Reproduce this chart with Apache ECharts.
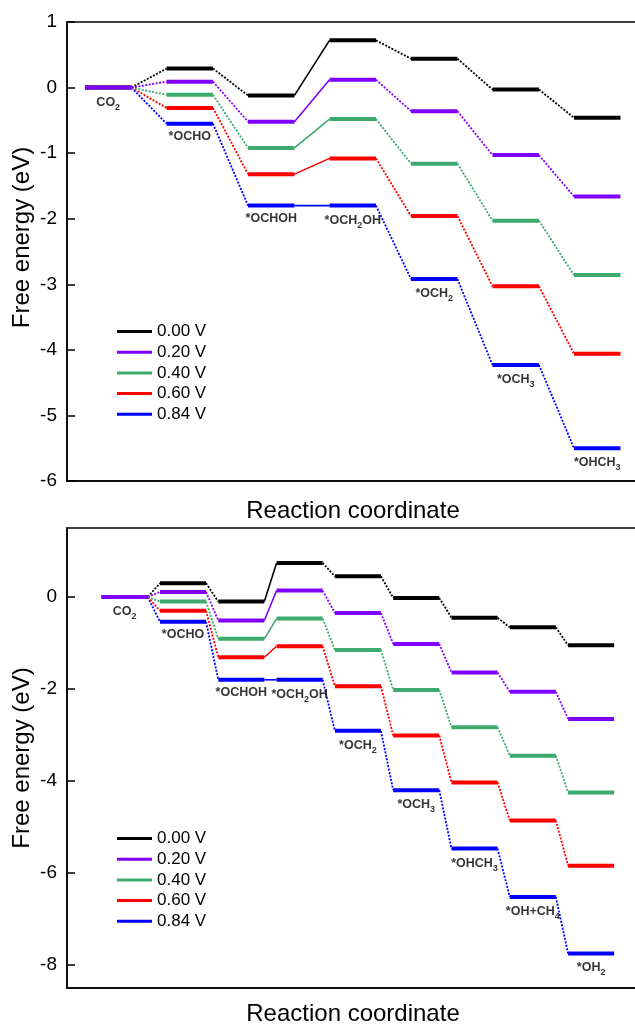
<!DOCTYPE html>
<html><head><meta charset="utf-8">
<script src="https://cdn.jsdelivr.net/npm/echarts@6/dist/echarts.min.js"></script>
<style>html,body{margin:0;padding:0;background:#fff}#c{width:635px;height:1025px}</style>
</head><body><div id="c"></div>
<script>
// ---- data ----
const voltages = ['0.00 V', '0.20 V', '0.40 V', '0.60 V', '0.84 V'];
const colors = ['#000000', '#8000FF', '#3BAA6B', '#FF0000', '#0000FF'];

// top panel (to *OHCH3)
const topStates = ['CO{s|2}', '*OCHO', '*OCHOH', '*OCH{s|2}OH', '*OCH{s|2}', '*OCH{s|3}', '*OHCH{s|3}'];
const topE000 = [0, 0.29, -0.12, 0.72, 0.44, -0.03, -0.46];
const topE020 = [0, 0.09, -0.52, 0.12, -0.36, -1.03, -1.66];
const topE040 = [0, -0.11, -0.92, -0.48, -1.16, -2.03, -2.86];
const topE060 = [0, -0.31, -1.32, -1.08, -1.96, -3.03, -4.06];
const topE084 = [0, -0.55, -1.80, -1.80, -2.92, -4.23, -5.50];
const topTicks = [1, 0, -1, -2, -3, -4, -5, -6];

// bottom panel (to *OH2)
const botStates = ['CO{s|2}', '*OCHO', '*OCHOH', '*OCH{s|2}OH', '*OCH{s|2}', '*OCH{s|3}', '*OHCH{s|3}', '*OH+CH{s|4}', '*OH{s|2}'];
const botE000 = [0, 0.30, -0.10, 0.74, 0.45, -0.02, -0.45, -0.66, -1.05];
const botE020 = [0, 0.11, -0.51, 0.14, -0.35, -1.02, -1.64, -2.06, -2.65];
const botE040 = [0, -0.10, -0.91, -0.47, -1.15, -2.02, -2.83, -3.45, -4.25];
const botE060 = [0, -0.30, -1.31, -1.07, -1.94, -3.01, -4.03, -4.86, -5.84];
const botE084 = [0, -0.54, -1.80, -1.80, -2.91, -4.20, -5.47, -6.52, -7.75];
const botTicks = [0, -2, -4, -6, -8];

// steps drawn with a solid connector (index of step from state j to j+1)
const solidSteps = [2];

// ---- build ----
const FONT = '"Liberation Sans", Arial, Helvetica, sans-serif';
const topSets = [topE000, topE020, topE040, topE060, topE084];
const botSets = [botE000, botE020, botE040, botE060, botE084];
const drawOrder = [0, 4, 3, 2, 1];

function segments(E, W) {
  const out = [];
  for (let i = 0; i < E.length; i++) out.push([i, E[i], i + W, E[i], 0]);
  for (let j = 0; j < E.length - 1; j++) out.push([j + W, E[j], j + 1, E[j + 1], solidSteps.includes(j) ? 2 : 1]);
  return out;
}
function renderSeg(params, api) {
  const p0 = api.coord([api.value(0), api.value(1)]);
  const p1 = api.coord([api.value(2), api.value(3)]);
  const kind = api.value(4);
  const color = api.visual('color');
  return {
    type: 'line',
    shape: { x1: p0[0], y1: p0[1], x2: p1[0], y2: p1[1] },
    style: {
      stroke: color,
      lineWidth: kind === 0 ? 4 : (kind === 2 ? 1.6 : 1.8),
      lineDash: kind === 1 ? [2, 1.5] : null,
      fill: null
    }
  };
}
function levelSeries(sets, W, gi) {
  return drawOrder.map(k => ({
    type: 'custom',
    name: voltages[k],
    xAxisIndex: gi, yAxisIndex: gi,
    itemStyle: { color: colors[k] },
    renderItem: renderSeg,
    dimensions: ['x0', 'y0', 'x1', 'y1', 'kind'],
    encode: { x: [0, 2], y: [1, 3] },
    data: segments(sets[k], W),
    silent: true,
    clip: false,
    z: 2
  }));
}
function labelSeries(states, sets, W, gi) {
  return {
    type: 'scatter',
    xAxisIndex: gi, yAxisIndex: gi,
    symbolSize: 1,
    itemStyle: { color: 'rgba(0,0,0,0)' },
    silent: true,
    z: 10,
    data: states.map((s, i) => ({
      value: [i + W / 2, Math.min(...sets.map(a => a[i]))],
      label: { formatter: s }
    })),
    label: {
      show: true, position: 'bottom', distance: 4.5,
      fontSize: 12.5, fontWeight: 'bold', color: '#000', fontFamily: FONT, lineHeight: 15,
      rich: { s: { fontSize: 9, fontWeight: 'bold', color: '#000', fontFamily: FONT, verticalAlign: 'bottom', lineHeight: 19 } }
    }
  };
}

const TW = 0.57, BW = 0.79;
const axisLineStyle = { color: '#000', width: 1.5 };
function xAx(gi, min, max, gap) {
  return {
    gridIndex: gi, type: 'value', min: min, max: max,
    axisLine: { show: true, onZero: false, lineStyle: axisLineStyle },
    axisTick: { show: false }, axisLabel: { show: false }, splitLine: { show: false },
    name: 'Reaction coordinate', nameLocation: 'middle', nameGap: gap,
    nameTextStyle: { fontSize: 24, color: '#000', fontFamily: FONT, padding: [0, 8, 0, 0] }
  };
}
function yAx(gi, min, max, ticks, pad) {
  return {
    gridIndex: gi, type: 'value', min: min, max: max,
    axisLine: { show: true, onZero: false, lineStyle: axisLineStyle },
    axisTick: { show: true, inside: true, length: 8, lineStyle: axisLineStyle, customValues: ticks },
    axisLabel: { fontSize: 19, color: '#000', margin: 10, fontFamily: FONT, customValues: ticks },
    splitLine: { show: false },
    name: 'Free energy (eV)', nameLocation: 'middle', nameGap: 33, nameMoveOverlap: false,
    nameTextStyle: { fontSize: 24, color: '#000', fontFamily: FONT, padding: pad }
  };
}

const legendCommon = {
  orient: 'vertical', left: 117, padding: 0,
  data: voltages, icon: 'rect', itemWidth: 35, itemHeight: 3, itemGap: 3.7,
  textStyle: { fontSize: 17, color: '#000', fontFamily: FONT, lineHeight: 17 },
  selectedMode: false
};

const gridCommon = { left: 67, width: 580, show: true, borderColor: '#000', borderWidth: 1.5, backgroundColor: 'transparent', containLabel: false, outerBoundsMode: 'none' };

const option = {
  backgroundColor: '#fff',
  animation: false,
  grid: [
    Object.assign({ top: 22, height: 459 }, gridCommon),
    Object.assign({ top: 528, height: 460 }, gridCommon)
  ],
  xAxis: [xAx(0, -0.221, -0.221 + 580 / 81.5, 18), xAx(1, -0.595, -0.595 + 580 / 58.3, 14)],
  yAxis: [yAx(0, -6, 1, topTicks, [0, 0, 0, 28]), yAx(1, -8.5, 1.5, botTicks, [0, 0, 0, 0])],
  legend: [
    Object.assign({ top: 323 }, legendCommon),
    Object.assign({ top: 830 }, legendCommon)
  ],
  series: [].concat(
    levelSeries(topSets, TW, 0),
    [labelSeries(topStates, topSets, TW, 0)],
    levelSeries(botSets, BW, 1),
    [labelSeries(botStates, botSets, BW, 1)]
  )
};
const chart = echarts.init(document.getElementById('c'), null, { renderer: 'canvas' });
chart.setOption(option);
</script>
</body></html>
